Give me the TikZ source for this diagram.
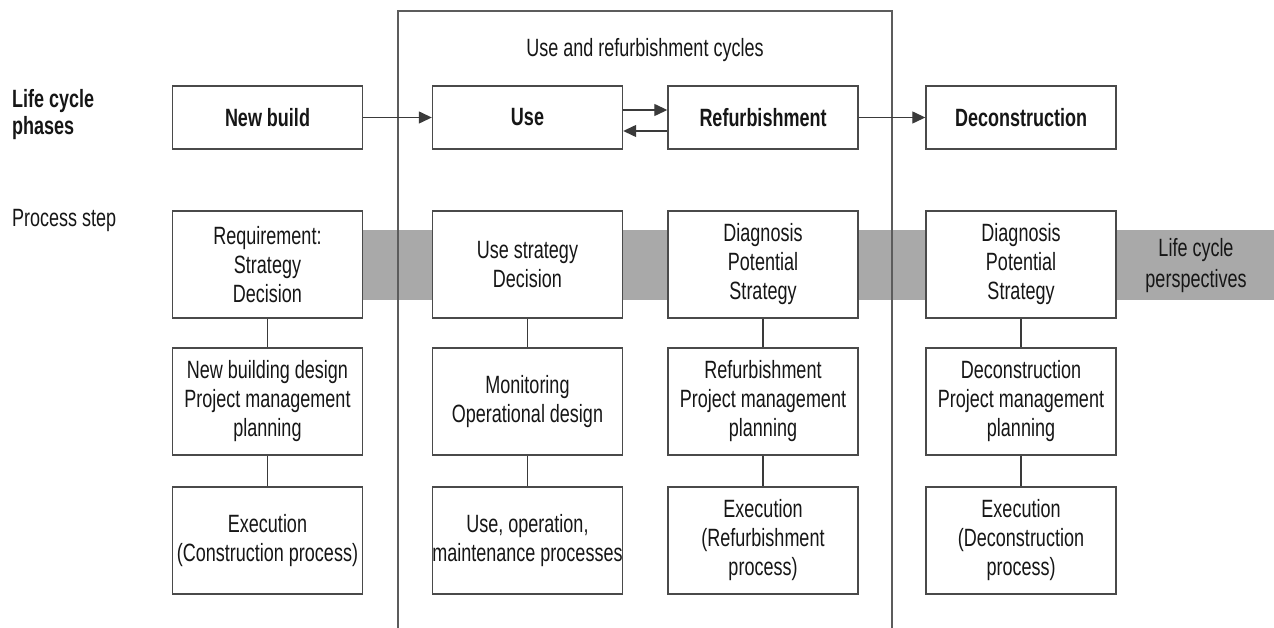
\documentclass[tikz,border=0pt]{standalone}
\usepackage{fontspec}
\setmainfont{Liberation Sans}[FakeStretch=0.72]
\usetikzlibrary{arrows.meta,backgrounds}
\definecolor{boxline}{HTML}{4A4A4A}
\definecolor{inkcol}{HTML}{161616}
\definecolor{bandcol}{HTML}{A9A9A9}
\definecolor{framecol}{HTML}{5C5C5C}
\definecolor{linkcol}{HTML}{3A3A3A}
\newcommand\bodyfont{\fontsize{25}{29}\selectfont}
\newcommand\phasefont{\fontsize{25}{29}\selectfont\bfseries}
\begin{document}
\begin{tikzpicture}[x=1pt,y=-1pt,
  box/.style={draw=boxline, line width=1.4pt, fill=white, minimum width=190pt,
    inner sep=0pt, align=center, text=inkcol, font=\bodyfont},
  phase/.style={box, minimum height=63pt, font=\phasefont},
  stepbox/.style={box, minimum height=107pt},
  link/.style={draw=linkcol, line width=1.1pt},
  flow/.style={draw=linkcol, line width=1.3pt, -{Triangle[length=13pt,width=12pt]}},
  label/.style={inner sep=0pt, text=inkcol, font=\bodyfont},
]
\useasboundingbox (0,0) rectangle (1274,628);

% row labels on the left
\node[label, font=\fontsize{25}{27}\selectfont\bfseries, align=left, anchor=west]
  (lcp) at (12,114.5) {Life cycle\\phases};
\node[label, anchor=base west] (ps) at (12,227) {Process step};

% life cycle phases
\node[phase] (nb)  at (267.5,117.5) {New build};
\node[phase] (use) at (527.5,117.5) {Use};
\node[phase] (ref) at (763,117.5)   {Refurbishment};
\node[phase] (dec) at (1021,117.5)  {Deconstruction};

% process steps, three per phase
\node[stepbox] (nb1) at (267.5,264.5) {Requirement:\\Strategy\\Decision};
\node[stepbox] (nb2) at (267.5,401.5) {New building design\\Project management\\planning};
\node[stepbox] (nb3) at (267.5,540.5) {Execution\\(Construction process)};

\node[stepbox] (us1) at (527.5,264.5) {Use strategy\\Decision};
\node[stepbox] (us2) at (527.5,401.5) {Monitoring\\Operational design};
\node[stepbox] (us3) at (527.5,540.5) {Use, operation,\\maintenance processes};

\node[stepbox] (rf1) at (763,264.5) {Diagnosis\\Potential\\Strategy};
\node[stepbox] (rf2) at (763,401.5) {Refurbishment\\Project management\\planning};
\node[stepbox] (rf3) at (763,540.5) {Execution\\(Refurbishment\\process)};

\node[stepbox] (dc1) at (1021,264.5) {Diagnosis\\Potential\\Strategy};
\node[stepbox] (dc2) at (1021,401.5) {Deconstruction\\Project management\\planning};
\node[stepbox] (dc3) at (1021,540.5) {Execution\\(Deconstruction\\process)};

% title of the use and refurbishment cycles
\node[label, anchor=base] (cyc) at (645,57) {Use and refurbishment cycles};

% label inside the band of life cycle perspectives
\node[label, align=center, font=\fontsize{25}{31}\selectfont] (lcper) at (1196,266)
  {Life cycle\\perspectives};

% corners of the frame round the use and refurbishment cycles
\coordinate (fbl) at (398,628);
\coordinate (ftl) at (398,11);
\coordinate (ftr) at (892,11);
\coordinate (fbr) at (892,628);

\begin{scope}[on background layer]
  \fill[bandcol] (nb1.east |- 0,230) rectangle (1274,300);
\end{scope}
\draw[framecol, line width=1.2pt] (fbl) -- (ftl) -- (ftr) -- (fbr);

% phase transitions
\draw[flow] (nb) -- (use);
\draw[flow] ([yshift=7.5pt]use.east) -- ([yshift=7.5pt]ref.west);
\draw[flow] ([yshift=-13.5pt]ref.west) -- ([yshift=-13.5pt]use.east);
\draw[flow] (ref) -- (dec);

% steps within each phase
\draw[link] (nb1) -- (nb2);
\draw[link] (nb2) -- (nb3);
\draw[link] (us1) -- (us2);
\draw[link] (us2) -- (us3);
\draw[link] (rf1) -- (rf2);
\draw[link] (rf2) -- (rf3);
\draw[link] (dc1) -- (dc2);
\draw[link] (dc2) -- (dc3);
\end{tikzpicture}
\end{document}
